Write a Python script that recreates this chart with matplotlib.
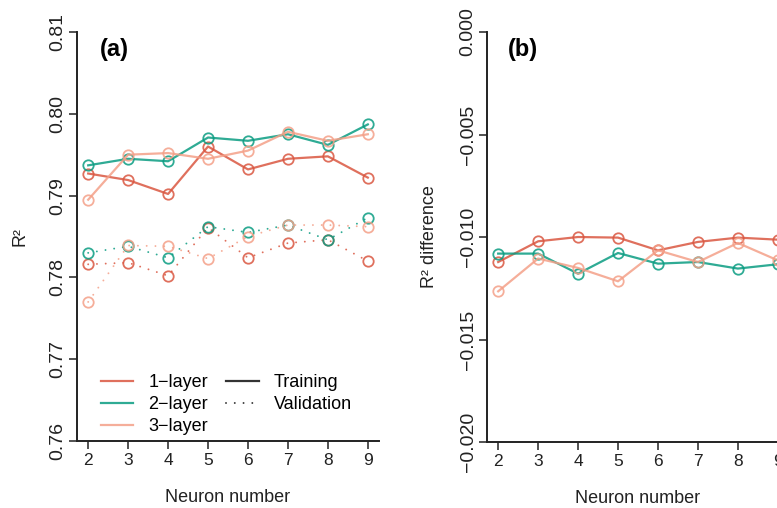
import matplotlib
matplotlib.use("Agg")
import matplotlib.pyplot as plt
from matplotlib.lines import Line2D

plt.rcParams['font.family'] = ['Liberation Sans', 'DejaVu Sans']

neurons = [2, 3, 4, 5, 6, 7, 8, 9]
layer_names = ['1\u2212layer', '2\u2212layer', '3\u2212layer']

# R^2 on the training set
train_1 = [0.7927, 0.7919, 0.7902, 0.7960, 0.7932, 0.7945, 0.7948, 0.7922]
train_2 = [0.7937, 0.7945, 0.7942, 0.7971, 0.7967, 0.7975, 0.7962, 0.7987]
train_3 = [0.7895, 0.7950, 0.7952, 0.7945, 0.7955, 0.7978, 0.7967, 0.7975]

# R^2 on the validation set
valid_1 = [0.7816, 0.7818, 0.7802, 0.7861, 0.7824, 0.7842, 0.7846, 0.7820]
valid_2 = [0.7830, 0.7838, 0.7824, 0.7862, 0.7855, 0.7864, 0.7846, 0.7873]
valid_3 = [0.7770, 0.7839, 0.7838, 0.7823, 0.7850, 0.7864, 0.7864, 0.7862]

# validation minus training
diff_1 = [-0.01122, -0.01021, -0.01000, -0.01003, -0.01065, -0.01024, -0.01003, -0.01013]
diff_2 = [-0.01081, -0.01081, -0.01179, -0.01078, -0.01130, -0.01122, -0.01154, -0.01133]
diff_3 = [-0.01265, -0.01105, -0.01151, -0.01216, -0.01065, -0.01122, -0.01029, -0.01114]

r2_ticks = [0.76, 0.77, 0.78, 0.79, 0.80, 0.81]
diff_ticks = [-0.020, -0.015, -0.010, -0.005, 0.000]

colors = ['#DA5741', '#0A9C82', '#F4A088']
ALPHA = 0.85
AXC = '#222222'
dotted = (0, (0.01, 4.5))

W, H = 777, 508
fig = plt.figure(figsize=(W / 100, H / 100), dpi=100)
ax_a = fig.add_axes([77 / W, (H - 441) / H, 302 / W, 409 / H])
ax_b = fig.add_axes([487 / W, (H - 442) / H, 302 / W, 410 / H])


def style_axis(ax, yticks, fmt):
    ax.set_xlim(1.72, 9.28)
    ax.set_ylim(yticks[0], yticks[-1])
    for s in ['top', 'right']:
        ax.spines[s].set_visible(False)
    for s in ['left', 'bottom']:
        ax.spines[s].set_color(AXC)
        ax.spines[s].set_linewidth(1.4)
    ax.set_xticks(neurons)
    ax.set_yticks(yticks)
    ax.set_yticklabels([fmt.format(v).replace('-', '\u2212') for v in yticks],
                       rotation=90, va='center')
    ax.tick_params(direction='out', length=5.5, width=1.1, color=AXC,
                   labelcolor='#222222')
    ax.tick_params(axis='x', pad=3, labelsize=12.5)
    ax.tick_params(axis='y', pad=2, labelsize=14)
    ax.set_xlabel('Neuron number', fontsize=13, color='#222222')
    ax.xaxis.set_label_coords(0.5, -0.118)


def series(ax, y, c, ls):
    solid = ls == '-'
    ax.plot(neurons, y, color=c, alpha=ALPHA, lw=1.6 if solid else 1.4,
            linestyle=ls, marker='o', ms=7.5, mfc='none', mew=1.3,
            dash_capstyle='round')


# (a) R^2 for training and validation
style_axis(ax_a, r2_ticks, '{:.2f}')
for tr, va, c in zip([train_1, train_2, train_3], [valid_1, valid_2, valid_3], colors):
    series(ax_a, tr, c, '-')
    series(ax_a, va, c, dotted)
ax_a.set_ylabel('R\u00b2', fontsize=13, color='#222222')
ax_a.yaxis.set_label_coords(-0.162, 0.5)
ax_a.text(0.076, 0.985, '(a)', transform=ax_a.transAxes, fontsize=17,
          fontweight='bold', va='top', ha='left')

handles = [Line2D([], [], color=c, alpha=ALPHA, lw=1.6) for c in colors]
handles.append(Line2D([], [], color='#333333', lw=1.6))
handles.append(Line2D([], [], color='#333333', lw=1.4, linestyle=dotted,
                      dash_capstyle='round'))
labels = layer_names + ['Training', 'Validation']
ax_a.legend(handles, labels, ncol=2, frameon=False, fontsize=13,
            loc='upper left', bbox_to_anchor=(0.078, 0.164),
            handlelength=1.8, handletextpad=0.85, columnspacing=1.0,
            labelspacing=0.28, borderaxespad=0, borderpad=0)

# (b) difference between validation and training R^2
style_axis(ax_b, diff_ticks, '{:.3f}')
for d, c in zip([diff_1, diff_2, diff_3], colors):
    series(ax_b, d, c, '-')
ax_b.set_ylabel('R\u00b2 difference', fontsize=13, color='#222222')
ax_b.yaxis.set_label_coords(-0.162, 0.5)
ax_b.text(0.07, 0.985, '(b)', transform=ax_b.transAxes, fontsize=17,
          fontweight='bold', va='top', ha='left')

fig.savefig('out.png', dpi=100)
